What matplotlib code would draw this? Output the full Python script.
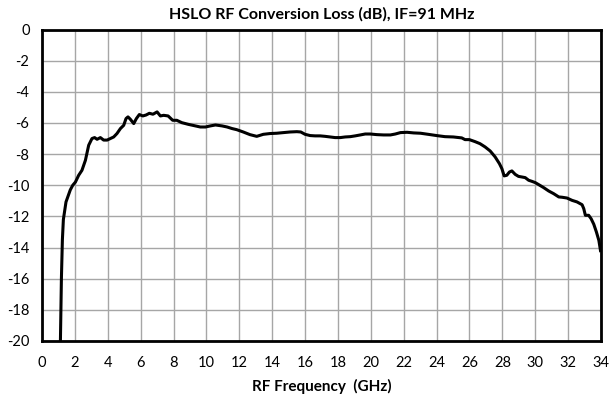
import matplotlib
matplotlib.use("Agg")
import matplotlib.pyplot as plt

freq_ghz = [1.12, 1.18, 1.24, 1.30, 1.46, 1.72, 1.87, 2.03, 2.23, 2.43, 2.64, 2.84,
            3.04, 3.20, 3.35, 3.55, 3.75, 3.96, 4.16, 4.36, 4.56, 4.77, 4.97, 5.11,
            5.23, 5.37, 5.58, 5.74, 5.92, 6.13, 6.33, 6.53, 6.75, 7.00, 7.20, 7.40,
            7.67, 7.95, 8.20, 8.50, 8.90, 9.33, 9.63, 9.94, 10.24, 10.55, 10.95,
            11.26, 11.56, 11.84, 12.24, 12.65, 13.06, 13.46, 13.87, 14.28, 14.68,
            15.09, 15.50, 15.74, 16.00, 16.31, 16.61, 16.92, 17.22, 17.53, 17.83,
            18.14, 18.44, 18.75, 19.05, 19.36, 19.66, 19.97, 20.37, 20.78, 21.19,
            21.49, 21.80, 22.20, 22.61, 23.02, 23.49, 24.00, 24.51, 25.02, 25.53,
            25.73, 25.99, 26.34, 26.64, 26.95, 27.26, 27.56, 27.82, 27.97, 28.11,
            28.27, 28.43, 28.58, 28.78, 28.98, 29.19, 29.39, 29.60, 29.80, 30.00,
            30.21, 30.51, 30.82, 31.12, 31.43, 31.63, 31.93, 32.24, 32.54, 32.85,
            32.95, 33.05, 33.25, 33.40, 33.56, 33.72, 33.87, 33.97]
loss_db = [-20.0, -16.0, -13.5, -12.2, -11.07, -10.3, -10.0, -9.8, -9.36, -9.04, -8.4, -7.43,
           -7.0, -6.94, -7.05, -6.94, -7.1, -7.1, -7.0, -6.9, -6.68, -6.36, -6.15, -5.72,
           -5.61, -5.76, -6.04, -5.72, -5.46, -5.55, -5.49, -5.38, -5.44, -5.29, -5.55, -5.51,
           -5.55, -5.83, -5.83, -5.98, -6.09, -6.19, -6.26, -6.26, -6.19, -6.13, -6.19,
           -6.26, -6.36, -6.43, -6.58, -6.75, -6.86, -6.73, -6.68, -6.66, -6.62,
           -6.58, -6.56, -6.58, -6.73, -6.81, -6.83, -6.83, -6.86, -6.90, -6.94,
           -6.94, -6.90, -6.88, -6.83, -6.77, -6.71, -6.71, -6.75, -6.77, -6.77,
           -6.71, -6.62, -6.60, -6.64, -6.66, -6.73, -6.81, -6.88, -6.90, -6.96,
           -7.07, -7.07, -7.20, -7.33, -7.54, -7.80, -8.18, -8.61, -8.93, -9.40,
           -9.36, -9.15, -9.08, -9.30, -9.43, -9.47, -9.51, -9.68, -9.75, -9.83,
           -9.96, -10.15, -10.37, -10.54, -10.75, -10.77, -10.82, -10.97, -11.07, -11.25,
           -11.5, -11.93, -11.93, -12.15, -12.5, -13.0, -13.54, -14.2]

x_ticks = list(range(0, 35, 2))
y_ticks = list(range(-20, 1, 2))
title = "HSLO RF Conversion Loss (dB), IF=91 MHz"
xlabel = "RF Frequency  (GHz)"

plt.rcParams['font.family'] = ['Lato', 'DejaVu Sans']
plt.rcParams['axes.unicode_minus'] = False

fig = plt.figure(figsize=(6.10, 3.98), dpi=100)
ax = fig.add_axes([42/610, 1-341/398, (601-42)/610, (341-29.5)/398])

ax.plot(freq_ghz, loss_db, color='black', lw=2.2, solid_joinstyle='round')
ax.set_xlim(0, 34)
ax.set_ylim(-20, 0)
ax.set_xticks(x_ticks)
ax.set_yticks(y_ticks)
ax.grid(True, color='#a6a6a6', lw=1.0)
ax.set_axisbelow(True)
ax.tick_params(axis='x', length=0, labelsize=10.5, pad=11)
ax.tick_params(axis='y', length=0, labelsize=10.5, pad=9)
for s in ax.spines.values():
    s.set_linewidth(2.0)
    s.set_color('black')
ax.set_title(title, fontsize=11.5, fontweight='bold', pad=8)
ax.set_xlabel(xlabel, fontsize=11, fontweight='bold', labelpad=6)

fig.savefig("out.png", dpi=100)
